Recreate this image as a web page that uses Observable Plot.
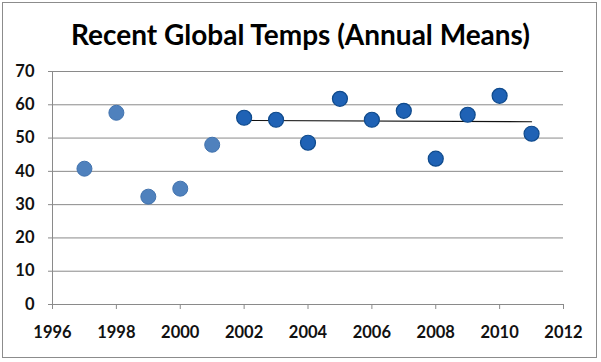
<!DOCTYPE html>
<html>
<head>
<meta charset="utf-8">
<script src="https://cdn.jsdelivr.net/npm/d3@7"></script>
<script src="https://cdn.jsdelivr.net/npm/@observablehq/plot@0.6"></script>
<style>
  html, body { margin: 0; padding: 0; background: #fff; }
  #wrap { position: relative; width: 601px; height: 362px; overflow: hidden; background: #fff; }
  #frame { position: absolute; left: 2px; top: 2px; width: 593px; height: 354px; border: 1.5px solid #8c8c8c; pointer-events: none; }
  #title { position: absolute; left: 0; top: 17px; width: 601px; text-align: center; font-family: Lato, sans-serif; font-weight: bold; font-size: 28px; color: #000; }
  #chart { position: absolute; left: 0; top: 0; }
</style>
</head>
<body>
<div id="wrap">
  <div id="chart"></div>
  <div id="title">Recent Global Temps (Annual Means)</div>
  <div id="frame"></div>
</div>
<script>
const titleText = "Recent Global Temps (Annual Means)";
const years = [1997, 1998, 1999, 2000, 2001, 2002, 2003, 2004, 2005, 2006, 2007, 2008, 2009, 2010, 2011];
const temps = [40.8, 57.6, 32.4, 34.8, 48.0, 56.1, 55.5, 48.6, 61.8, 55.5, 58.2, 43.8, 57.0, 62.7, 51.3];
const recentFrom = 2002;
const trendYears = [2002, 2011];
const trendValues = [55.3, 54.9];
const xTicks = [1996, 1998, 2000, 2002, 2004, 2006, 2008, 2010, 2012];
const yTicks = [0, 10, 20, 30, 40, 50, 60, 70];

const data = years.map((y, i) => ({year: y, temp: temps[i], recent: y >= recentFrom}));
const trend = trendYears.map((y, i) => ({year: y, temp: trendValues[i]}));
const early = data.filter(d => !d.recent);
const recent = data.filter(d => d.recent);

const font = "Lato, sans-serif";
const plot = Plot.plot({
  width: 601,
  height: 362,
  marginTop: 71,
  marginBottom: 58,
  marginLeft: 52,
  marginRight: 38,
  style: {fontFamily: font, fontSize: "16.5px", fontWeight: "bold", color: "#111", background: "transparent"},
  x: {domain: [1996, 2012], label: null},
  y: {domain: [0, 70], label: null},
  marks: [
    Plot.gridY(yTicks, {stroke: "#8a8a8a", strokeOpacity: 1, strokeWidth: 1}),
    Plot.ruleX([1996], {stroke: "#8a8a8a", strokeWidth: 1}),
    Plot.axisY({ticks: yTicks, tickSize: 4, tickPadding: 14, stroke: "#8a8a8a", tickFormat: d => String(d), fill: "#111"}),
    Plot.axisX({ticks: xTicks, tickSize: 5, tickPadding: 17, stroke: "#8a8a8a", tickFormat: d => String(d), fill: "#111"}),
    Plot.line(trend, {x: "year", y: "temp", stroke: "#111", strokeWidth: 1.2}),
    Plot.dot(early, {x: "year", y: "temp", r: 7.5, fill: "#4F81BD", stroke: "#4273AE", strokeWidth: 1}),
    Plot.dot(recent, {x: "year", y: "temp", r: 7.5, fill: "#1F62B5", stroke: "#0F4A8C", strokeWidth: 1.2})
  ]
});
document.getElementById("chart").appendChild(plot);
document.getElementById("title").textContent = titleText;
</script>
</body>
</html>
